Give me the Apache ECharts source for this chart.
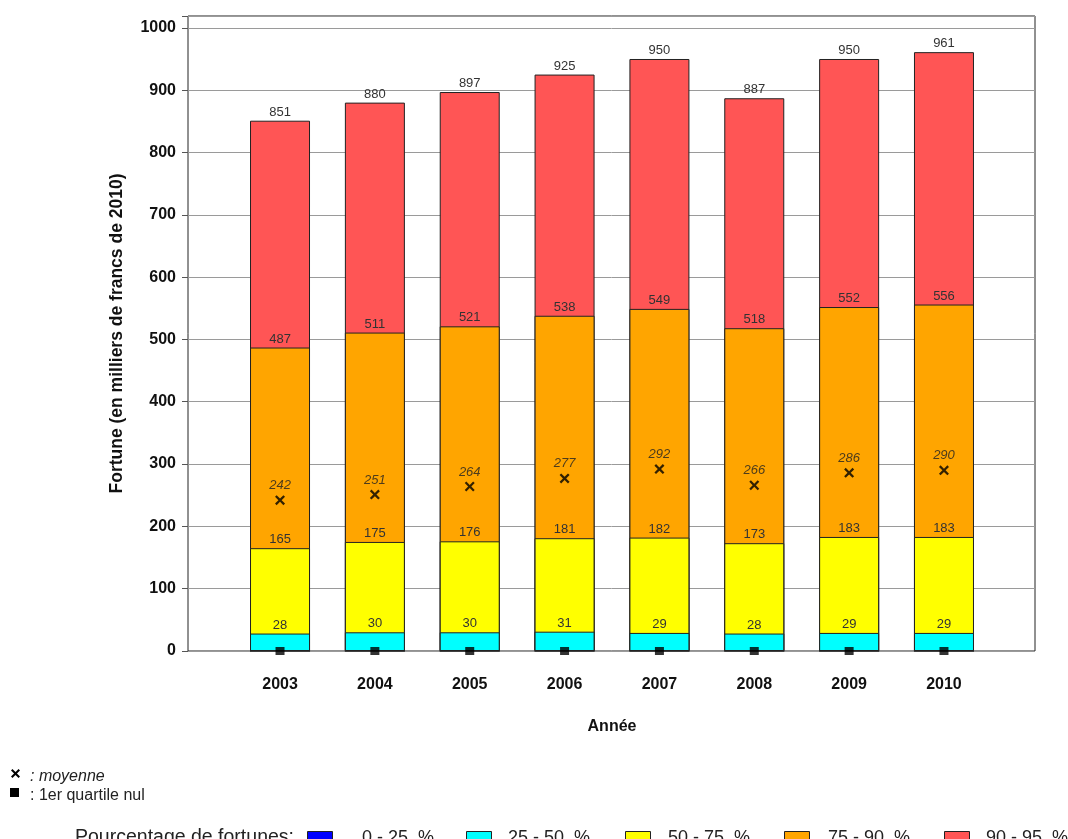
<!DOCTYPE html>
<html>
<head>
<meta charset="utf-8">
<script src="https://cdn.jsdelivr.net/npm/echarts@6/dist/echarts.min.js"></script>
<style>
html,body{margin:0;padding:0;background:#fff;}
#chart{width:1068px;height:839px;}
</style>
</head>
<body>
<div id="chart"></div>
<script>
// ---- data (cumulative fortune thresholds, in milliers de francs de 2010) ----
var years = ['2003', '2004', '2005', '2006', '2007', '2008', '2009', '2010'];
var p25 = [0, 0, 0, 0, 0, 0, 0, 0];                       // 0 - 25 % (1er quartile nul)
var p50 = [28, 30, 30, 31, 29, 28, 29, 29];               // 25 - 50 %
var p75 = [165, 175, 176, 181, 182, 173, 183, 183];       // 50 - 75 %
var p90 = [487, 511, 521, 538, 549, 518, 552, 556];       // 75 - 90 %
var p95 = [851, 880, 897, 925, 950, 887, 950, 961];       // 90 - 95 %
var means = [242, 251, 264, 277, 292, 266, 286, 290];     // moyenne
var legendNames = ['0 - 25  %', '25 - 50  %', '50 - 75  %', '75 - 90  %', '90 - 95  %'];
var colors = ['#0000FF', '#00FFFF', '#FFFF00', '#FFA500', '#FF5555'];

var FONT = '"Liberation Sans", Arial, Helvetica, sans-serif';
var chart = echarts.init(document.getElementById('chart'), null, {renderer: 'canvas'});

var xMark = 'path://M0,1.6L1.6,0L5,3.4L8.4,0L10,1.6L6.6,5L10,8.4L8.4,10L5,6.6L1.6,10L0,8.4L3.4,5Z';
var xPts = [[0,1.6],[1.6,0],[5,3.4],[8.4,0],[10,1.6],[6.6,5],[10,8.4],[8.4,10],[5,6.6],[1.6,10],[0,8.4],[3.4,5]];

function barSeries(idx, data, showLabel) {
  return {
    type: 'bar',
    name: legendNames[idx],
    xAxisIndex: 1, yAxisIndex: 1,
    data: data,
    barWidth: 60,
    barGap: '-100%',
    z: 2 + (4 - idx) * 0.1,
    itemStyle: {color: colors[idx], borderColor: '#222', borderWidth: 1},
    label: {
      show: showLabel, position: 'top', distance: 2,
      color: '#333', fontSize: 13, fontFamily: FONT
    },
    emphasis: {disabled: true},
    animation: false
  };
}

var graphics = [];
// notes
graphics.push({type: 'polygon', shape: {points: xPts.map(function (p) { return [11 + p[0] * 0.9, 769 + p[1] * 0.9]; })},
  style: {fill: '#000'}});
graphics.push({type: 'text', x: 30, y: 777, style: {text: ': moyenne', font: 'italic 16px ' + FONT, fill: '#222', textVerticalAlign: 'middle'}});
graphics.push({type: 'rect', shape: {x: 10, y: 788, width: 9, height: 9}, style: {fill: '#000'}});
graphics.push({type: 'text', x: 30, y: 796, style: {text: ': 1er quartile nul', font: '16px ' + FONT, fill: '#222', textVerticalAlign: 'middle'}});
// bottom legend
graphics.push({type: 'text', x: 75, y: 838, style: {text: 'Pourcentage de fortunes:', font: '19.5px ' + FONT, fill: '#222', textVerticalAlign: 'middle'}});
var boxX = [307, 466, 625, 784, 944];
var txtX = [362, 508, 668, 828, 986];
for (var i = 0; i < 5; i++) {
  graphics.push({type: 'rect', shape: {x: boxX[i] + 0.5, y: 831.5, width: 25, height: 13}, style: {fill: colors[i], stroke: '#222', lineWidth: 1}});
  graphics.push({type: 'text', x: txtX[i], y: 838, style: {text: legendNames[i], font: '18px ' + FONT, fill: '#222', textVerticalAlign: 'middle'}});
}

var option = {
  backgroundColor: '#fff',
  animation: false,
  textStyle: {fontFamily: FONT},
  grid: [
    {left: 188, top: 16, width: 847, height: 635, show: true, borderColor: '#222', borderWidth: 1, backgroundColor: 'transparent'},
    {left: 232.6, top: 16, width: 758.8, height: 635}
  ],
  xAxis: [
    {type: 'value', gridIndex: 0, show: false, min: 0, max: 1},
    {
      type: 'category', gridIndex: 1, data: years,
      axisLine: {show: false}, axisTick: {show: false},
      axisLabel: {fontSize: 16, fontWeight: 'bold', color: '#111', margin: 26, fontFamily: FONT},
      name: 'Année', nameLocation: 'middle', nameGap: 68,
      nameTextStyle: {fontSize: 16, fontWeight: 'bold', color: '#111', fontFamily: FONT}
    }
  ],
  yAxis: [
    {
      type: 'value', gridIndex: 0, min: 0, max: 1019, interval: 100,
      axisLine: {show: false},
      axisTick: {show: true, length: 6, lineStyle: {color: '#555'}},
      axisLabel: {fontSize: 16, fontWeight: 'bold', color: '#111', margin: 12, fontFamily: FONT,
        formatter: function (v) { return v % 100 === 0 ? String(v) : ''; }},
      splitLine: {show: true, lineStyle: {color: '#9a9a9a', width: 1}},
      name: 'Fortune (en milliers de francs de 2010)', nameLocation: 'middle', nameGap: 62, nameRotate: 90,
      nameTextStyle: {fontSize: 17.5, fontWeight: 'bold', color: '#111', fontFamily: FONT}
    },
    {type: 'value', gridIndex: 1, min: 0, max: 1019, show: false, splitLine: {show: false}}
  ],
  series: [
    barSeries(4, p95, true),
    barSeries(3, p90, true),
    barSeries(2, p75, true),
    barSeries(1, p50, true),
    barSeries(0, p25, false),
    {
      type: 'scatter', name: 'moyenne', xAxisIndex: 1, yAxisIndex: 1,
      data: means, symbol: xMark, symbolSize: 10, z: 5,
      itemStyle: {color: '#000'},
      label: {show: true, position: 'top', distance: 3, fontSize: 13, fontStyle: 'italic', color: '#222', fontFamily: FONT},
      emphasis: {disabled: true}
    },
    {
      type: 'scatter', name: '1er quartile nul', xAxisIndex: 1, yAxisIndex: 1,
      data: p25, symbol: 'rect', symbolSize: [9, 8], z: 6,
      itemStyle: {color: '#000'},
      emphasis: {disabled: true}
    }
  ],
  graphic: graphics
};
chart.setOption(option);
</script>
</body>
</html>
